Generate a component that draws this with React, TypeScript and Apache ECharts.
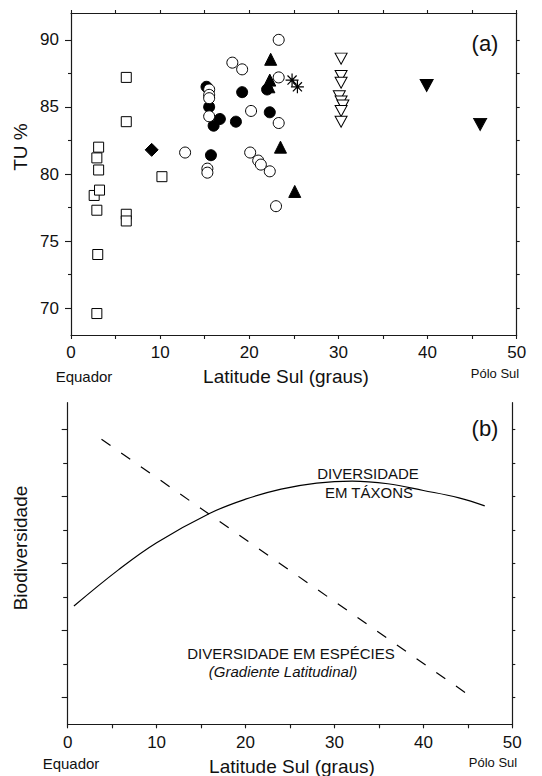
import React, { useEffect, useRef } from 'react';
import * as echarts from 'echarts';

// ---------- Data (panel a) ----------
const openSquares = [[2.6, 78.4], [3.2, 78.8], [2.9, 77.3], [3.0, 74.0], [2.9, 69.6], [3.1, 82.0], [2.9, 81.2], [3.1, 80.3], [6.2, 87.2], [6.2, 83.9], [6.2, 77.0], [6.2, 76.5], [10.2, 79.8]];
const filledDiamonds = [[9.05, 81.8]];
const filledCircles = [[15.2, 86.5], [15.5, 85.0], [16.7, 84.1], [16.0, 83.6], [18.5, 83.9], [19.2, 86.1], [22.3, 84.6], [15.7, 81.4], [22.0, 86.3]];
const filledTriangles = [[22.4, 88.55], [22.3, 87.0], [22.2, 86.5], [23.5, 82.0], [25.1, 78.7]];
const asterisks = [[24.8, 87.0], [25.4, 86.5]];
const openDownTriangles = [[30.3, 88.6], [30.3, 87.3], [30.3, 86.8], [30.1, 85.8], [30.3, 85.4], [30.5, 85.1], [30.3, 84.7], [30.3, 83.9]];
const filledDownTriangles = [[39.9, 86.6], [45.9, 83.7]];
const openCircles = [[12.8, 81.6], [15.3, 80.4], [15.3, 80.1], [15.5, 86.3], [15.5, 85.9], [15.5, 85.65], [15.5, 84.3], [18.1, 88.3], [19.2, 87.8], [20.2, 84.7], [20.1, 81.6], [21.0, 81.0], [21.3, 80.7], [22.3, 80.2], [23.3, 90.0], [23.3, 87.2], [23.3, 83.8], [23.0, 77.6]];

const yTicksA = [70, 75, 80, 85, 90];
const yMinorTicksA = [72.5, 77.5, 82.5, 87.5];
const yRightTicksA = [70, 72.5, 75, 77.5, 80, 82.5, 85, 87.5, 90];

// ---------- Data (panel b) ----------
const taxonCurve = [[0.7, 3.53], [5.7, 4.61], [10, 5.42], [16, 6.3], [20, 6.72], [24, 7.02], [28, 7.2], [32, 7.26], [36, 7.18], [40, 6.98], [44, 6.76], [46.9, 6.52]];
const speciesLine = [[3.8, 8.51], [45.1, 0.875]];
const yMajorTicksB = [0.8, 2.8, 4.8, 6.8, 8.8];
const yMinorTicksB = [1.8, 3.8, 5.8, 7.8];
const yRightTicksB = [0.8, 1.8, 2.8, 3.8, 4.8, 5.8, 6.8, 7.8, 8.8];

const FONT = 'Liberation Sans, Arial, Helvetica, sans-serif';
const INK = '#111';
const LINE = '#1a1a1a';

const downTri = 'path://M0,0L12,0L6,11Z';
const star = 'path://M6,0L6,12M0,6L12,6M1.8,1.8L10.2,10.2M1.8,10.2L10.2,1.8';

function txt(text: string, x: number, y: number, size: number, extra: any = {}, rot = 0) {
  return {
    type: 'text',
    x, y,
    rotation: rot,
    silent: true,
    style: {
      text,
      fill: INK,
      fontSize: size,
      fontFamily: FONT,
      fontStyle: extra.italic ? 'italic' : 'normal',
      textAlign: 'center',
      textVerticalAlign: 'middle',
      align: 'center',
      verticalAlign: 'middle',
    },
  };
}

export default function App() {
  const ref = useRef<HTMLDivElement>(null);
  useEffect(() => {
    if (!ref.current) return;
    const chart = echarts.init(ref.current, undefined, { renderer: 'svg' });
    const axisLine = { show: true, lineStyle: { color: LINE, width: 1.2 } };
    const xBase = (grid: number, pos: string, inside: boolean, len: number, labels: boolean, margin: number) => ({
      type: 'value', gridIndex: grid, position: pos, min: 0, max: 50, interval: 5,
      axisLine, splitLine: { show: false },
      axisTick: { show: true, inside, length: len, lineStyle: { color: LINE, width: 1.1 } },
      axisLabel: {
        show: labels, fontSize: 17, color: INK, fontFamily: FONT, margin,
        formatter: (v: number) => (v % 10 === 0 ? String(v) : ''),
      },
    });
    const yBase = (grid: number, pos: string, min: number, max: number, ticks: number[], len: number, labels: boolean, line: boolean) => ({
      type: 'value', gridIndex: grid, position: pos, min, max,
      axisLine: line ? axisLine : { show: false },
      splitLine: { show: false },
      axisTick: { show: true, inside: false, length: len, customValues: ticks, lineStyle: { color: LINE, width: 1.1 } },
      axisLabel: labels
        ? { show: true, fontSize: 17, color: INK, fontFamily: FONT, margin: 12, customValues: ticks }
        : { show: false },
    });
    const sc = (data: number[][], symbol: string, size: any, fill: string, extra: any = {}) => ({
      type: 'scatter', xAxisIndex: 0, yAxisIndex: 0, data, symbol, symbolSize: size,
      itemStyle: { color: fill, borderColor: '#000', borderWidth: 1, opacity: 1, ...extra },
      emphasis: { disabled: true },
    });
    chart.setOption({
      animation: false,
      grid: [
        { left: 71, top: 13, width: 445.7, height: 322 },
        { left: 67.7, top: 402.7, width: 444.6, height: 321.6 },
      ],
      xAxis: [
        xBase(0, 'bottom', false, 4, true, 9),
        xBase(0, 'top', false, 3, false, 8),
        xBase(1, 'bottom', false, 4, true, 10),
        xBase(1, 'top', true, 3, false, 8),
      ],
      yAxis: [
        yBase(0, 'left', 68, 92, yTicksA, 6, true, true),
        yBase(0, 'left', 68, 92, yMinorTicksA, 3, false, false),
        yBase(0, 'right', 68, 92, yRightTicksA, 3, false, true),
        yBase(1, 'left', 0, 9.6, yMajorTicksB, 6, false, true),
        yBase(1, 'left', 0, 9.6, yMinorTicksB, 4.5, false, false),
        yBase(1, 'right', 0, 9.6, yRightTicksB, 3, false, true),
      ],
      series: [
        sc(openSquares, 'rect', 10, '#fff'),
        sc(filledDiamonds, 'diamond', 13, '#000'),
        sc(filledCircles, 'circle', 11, '#000'),
        sc(filledTriangles, 'triangle', 12, '#000'),
        sc(asterisks, star, 13, 'none', { borderWidth: 1.2 }),
        sc(openDownTriangles, downTri, [12, 11], '#fff'),
        sc(filledDownTriangles, downTri, [13, 12], '#000'),
        sc(openCircles, 'circle', 11, '#fff'),
        {
          type: 'line', xAxisIndex: 2, yAxisIndex: 3, data: taxonCurve, smooth: 0.4,
          showSymbol: false, symbol: 'none',
          lineStyle: { color: '#000', width: 1.2 },
        },
        {
          type: 'line', xAxisIndex: 2, yAxisIndex: 3, data: speciesLine,
          showSymbol: false, symbol: 'none',
          lineStyle: { color: '#000', width: 1.2, type: [11, 13] },
        },
      ],
      graphic: [
        txt('TU %', 20, 147, 19, {}, Math.PI / 2),
        txt('Latitude Sul (graus)', 286, 376, 19),
        txt('Equador', 84, 376, 15),
        txt('Pólo Sul', 495, 373, 13),
        txt('(a)', 485, 43, 22),
        txt('(b)', 485, 428, 22),
        txt('Biodiversidade', 20, 548, 19, {}, Math.PI / 2),
        txt('Equador', 71, 763, 15),
        txt('Latitude Sul (graus)', 292, 766, 19),
        txt('Pólo Sul', 493, 762, 13),
        txt('DIVERSIDADE', 368, 473, 15),
        txt('EM TÁXONS', 369, 492, 15),
        txt('DIVERSIDADE EM ESPÉCIES', 291, 653, 15),
        txt('(Gradiente Latitudinal)', 283, 671, 15, { italic: true }),
      ],
    });
    return () => chart.dispose();
  }, []);
  return <div ref={ref} style={{ position: 'absolute', left: 0, top: 0, width: 542, height: 776 }} />;
}
